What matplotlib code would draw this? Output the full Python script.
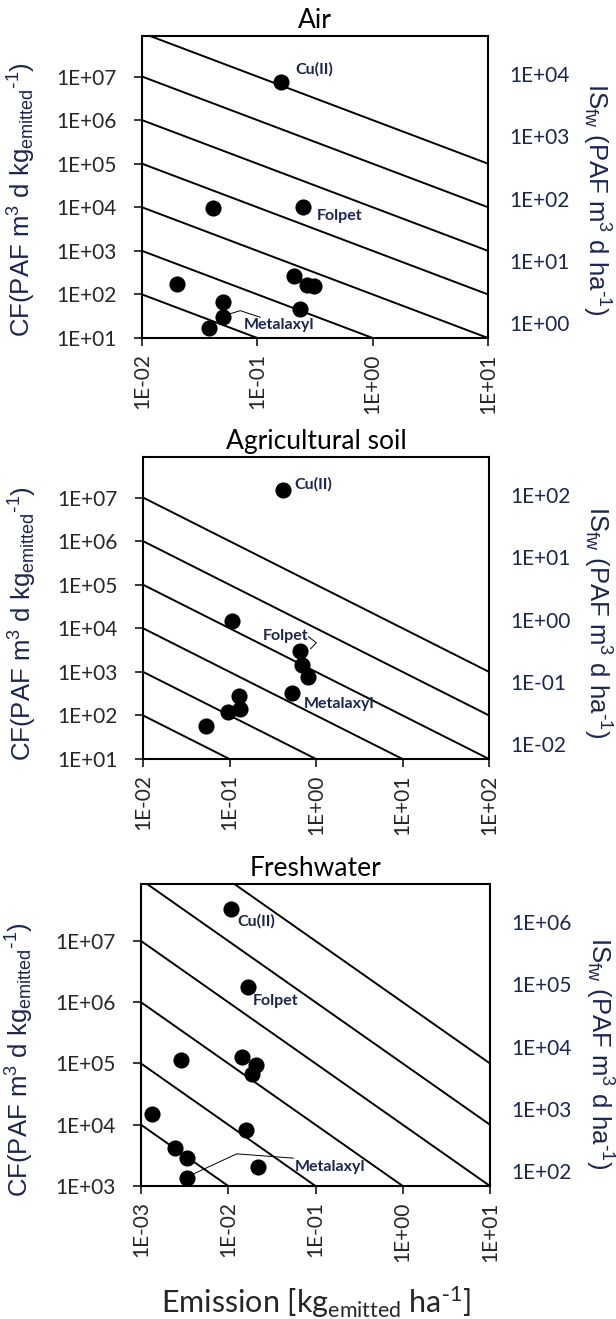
import matplotlib.pyplot as plt
import numpy as np

plt.rcParams['mathtext.default'] = 'regular'
plt.rcParams['font.family'] = ['Lato', 'DejaVu Sans']

# ---- data (emission kg/ha, CF) ----
panel_titles = ['Air', 'Agricultural soil', 'Freshwater']

air_emission = [0.16, 0.0415, 0.249, 0.0203, 0.208, 0.268, 0.311, 0.236, 0.0506, 0.0506, 0.038]
air_cf = [7.6e6, 9.8e3, 1.03e4, 170, 265, 163, 154, 46, 66, 31, 17]

soil_emission = [0.42, 0.107, 0.658, 0.694, 0.805, 0.531, 0.129, 0.131, 0.096, 0.053]
soil_cf = [1.48e7, 1.43e4, 2.93e3, 1.45e3, 780, 334, 281, 139, 122, 57]

fw_emission = [0.0108, 0.0167, 0.00287, 0.0145, 0.0208, 0.0185, 0.00133, 0.016, 0.00245, 0.0034, 0.0221, 0.0034]
fw_cf = [3.3e7, 1.74e6, 1.15e5, 1.3e5, 9.6e4, 6.8e4, 1.51e4, 8.07e3, 4.15e3, 2.88e3, 2.02e3, 1.34e3]

# isolines of constant impact score IS = CF * emission
air_iso = [1, 10, 100, 1e3, 1e4, 1e5, 1e6]
soil_iso = [1, 10, 100, 1e3, 1e4, 1e5]
fw_iso = [10, 100, 1e3, 1e4, 1e5, 1e6]

# axis ranges / tick labels
air_xticks = [1e-2, 1e-1, 1e0, 1e1]
soil_xticks = [1e-2, 1e-1, 1e0, 1e1, 1e2]
fw_xticks = [1e-3, 1e-2, 1e-1, 1e0, 1e1]
air_yticks = [1e1, 1e2, 1e3, 1e4, 1e5, 1e6, 1e7]
soil_yticks = [1e1, 1e2, 1e3, 1e4, 1e5, 1e6, 1e7]
fw_yticks = [1e3, 1e4, 1e5, 1e6, 1e7]
air_is_ticks = [1e0, 1e1, 1e2, 1e3, 1e4]
soil_is_ticks = [1e-2, 1e-1, 1e0, 1e1, 1e2]
fw_is_ticks = [1e2, 1e3, 1e4, 1e5, 1e6]

# substance labels: (text, x, y)
air_labels = [('Cu(II)', 0.212, 1.45e7), ('Folpet', 0.326, 6.4e3), ('Metalaxyl', 0.0755, 19.9)]
soil_labels = [('Cu(II)', 0.557, 2.0e7), ('Folpet', 0.241, 6.7e3), ('Metalaxyl', 0.718, 184)]
fw_labels = [('Cu(II)', 0.0126, 2.1e7), ('Folpet', 0.0192, 1.04e6), ('Metalaxyl', 0.058, 2.07e3)]

# leader lines
air_leader_x = [0.0574, 0.0711, 0.106]
air_leader_y = [35.6, 42.4, 29.9]
soil_leader_x = [0.82, 1.01, 0.865]
soil_leader_y = [6.38e3, 4.64e3, 3.38e3]
fw_leader_x = [0.00398, 0.0125, 0.0557]
fw_leader_y = [1.57e3, 3.35e3, 2.85e3]

W, H = 616, 1319
fig = plt.figure(figsize=(W / 100, H / 100), dpi=100)

panels = [
    dict(rect=[142, 36, 346, 302], x=air_emission, y=air_cf, iso=air_iso,
         xt=air_xticks, yt=air_yticks, ist=air_is_ticks, lab=air_labels,
         lx=air_leader_x, ly=air_leader_y, ymin=1e1, cfy=0.457, isy=0.46),
    dict(rect=[143, 457, 346, 302], x=soil_emission, y=soil_cf, iso=soil_iso,
         xt=soil_xticks, yt=soil_yticks, ist=soil_is_ticks, lab=soil_labels,
         lx=soil_leader_x, ly=soil_leader_y, ymin=1e1, cfy=0.447, isy=0.454),
    dict(rect=[141, 884, 349, 302], x=fw_emission, y=fw_cf, iso=fw_iso,
         xt=fw_xticks, yt=fw_yticks, ist=fw_is_ticks, lab=fw_labels,
         lx=fw_leader_x, ly=fw_leader_y, ymin=1e3, cfy=0.42, isy=0.44),
]

ink = '#262626'
navy = '#1c2550'

for title, p in zip(panel_titles, panels):
    l, t, w, h = p['rect']
    ax = fig.add_axes([l / W, 1 - (t + h) / H, w / W, h / H])
    ax.set_xscale('log')
    ax.set_yscale('log')
    xmin, xmax = p['xt'][0], p['xt'][-1]
    ymax = 10 ** 7.93
    ax.set_xlim(xmin, xmax)
    ax.set_ylim(p['ymin'], ymax)

    xs = np.logspace(np.log10(xmin), np.log10(xmax), 200)
    for v in p['iso']:
        ax.plot(xs, v / xs, color='black', lw=1.4, zorder=1)

    ax.plot(p['lx'], p['ly'], color='black', lw=0.7, zorder=2)
    ax.scatter(p['x'], p['y'], s=135, color='black', zorder=3, linewidths=0)

    for txt, tx, ty in p['lab']:
        ax.text(tx, ty, txt, fontsize=11.5, fontweight='bold', color=navy,
                ha='left', va='center', zorder=4)

    ax.set_xticks(p['xt'])
    ax.set_xticklabels(['%.0E' % v for v in p['xt']], rotation=90)
    ax.set_yticks(p['yt'])
    ax.set_yticklabels(['%.0E' % v for v in p['yt']])
    ax.minorticks_off()
    ax.tick_params(axis='both', direction='out', length=6, width=1.3,
                   labelsize=15, colors=ink)
    ax.tick_params(axis='y', pad=12)
    ax.tick_params(axis='x', pad=5)
    for s in ax.spines.values():
        s.set_linewidth(1.5)
    ax.set_title(title, fontsize=19, pad=6, color='black')
    ax.set_ylabel(r'CF(PAF m$^3$ d kg$_{emitted}$$^{\text{-}1}$)', family='Liberation Sans',
                  fontsize=18.5, color=navy)
    ax.yaxis.set_label_coords(-0.30, p['cfy'])

    ax2 = ax.twinx()
    ax2.set_yscale('log')
    ist = p['ist']
    ax2.set_ylim(ist[0] * 10 ** -0.24, ist[-1] * 10 ** 0.61)
    ax2.set_yticks(ist)
    ax2.set_yticklabels(['%.0E' % v for v in ist])
    ax2.minorticks_off()
    ax2.tick_params(axis='y', length=0, pad=15, labelsize=15, colors=navy)
    for s in ax2.spines.values():
        s.set_visible(False)
    ax2.set_ylabel(r'IS$_{fw}$ (PAF m$^3$ d ha$^{\text{-}1}$)', family='Liberation Sans',
                   fontsize=18.5, color=navy, rotation=270, va='center')
    ax2.yaxis.set_label_coords(1.312, p['isy'])

    if title == 'Freshwater':
        ax.set_xlabel(r'Emission [kg$_{emitted}$ ha$^{\text{-}1}$]', fontsize=22, color=ink)
        ax.xaxis.set_label_coords(0.5, -0.325)

fig.savefig('out.png', dpi=100)
